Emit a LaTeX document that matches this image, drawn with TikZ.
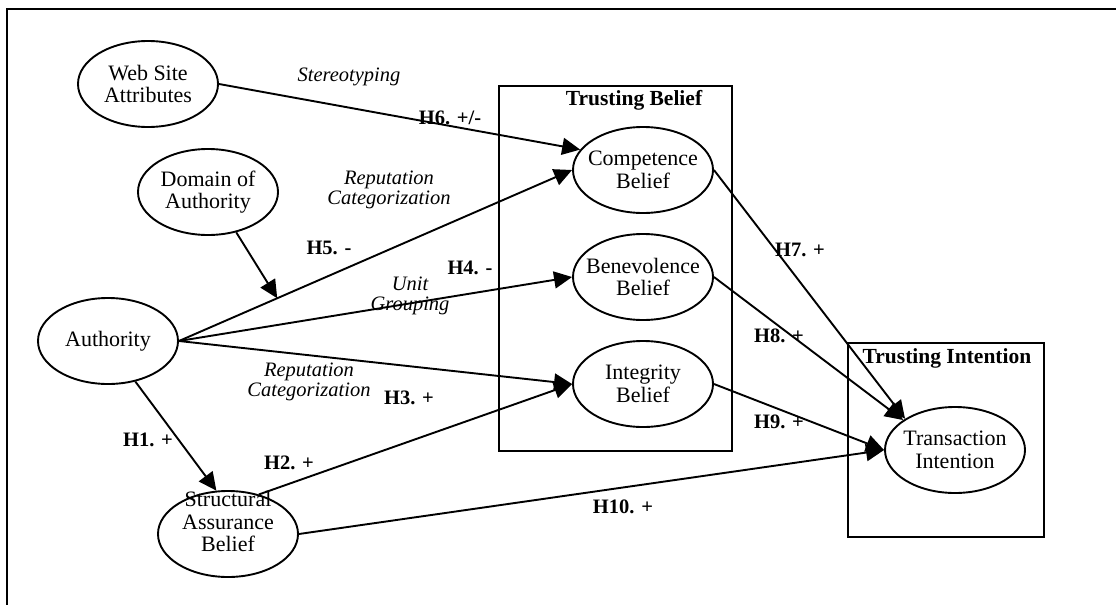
\documentclass[tikz,border=0pt]{standalone}
\usepackage{fontspec}
\setmainfont{Liberation Serif}
\usepackage{tikz}
\usetikzlibrary{arrows.meta, shapes.geometric, positioning}
\tikzstyle{construct}=[ellipse, draw, line width=1.9pt, minimum width=140pt, minimum height=86pt, inner xsep=-10pt, inner ysep=-5pt, align=center, font=\fontsize{22}{22.5}\selectfont]
\tikzstyle{group}=[draw, line width=2pt]
\tikzstyle{grouptitle}=[font=\fontsize{21.5}{22}\selectfont\bfseries]
\tikzstyle{hyp}=[font=\fontsize{20.5}{20.5}\selectfont\bfseries]
\tikzstyle{mech}=[align=center, font=\fontsize{20.5}{20}\selectfont\itshape]
\tikzstyle{post}=[-{Triangle[length=18pt,width=17pt]}, line width=1.9pt]

\begin{document}
\begin{tikzpicture}[x=1pt, y=-1pt, node distance=107pt]
  \useasboundingbox (0,0) rectangle (1116,605);
  % outer frame (cut off at right and bottom)
  \draw[line width=2pt] (1116,9) -- (7,9) -- (7,605);
  % groups
  \draw[group] (499,86) rectangle (732,451);
  \node[grouptitle] (tbtitle) at (634,100) {Trusting Belief};
  \draw[group] (848,343) rectangle (1044,537);
  \node[grouptitle] (tititle) at (947,358) {Trusting Intention};

  % constructs
  \node[construct] (wsa) at (148,84) {Web Site\\Attributes};
  \node[construct] (doa) at (208,192) {Domain of\\Authority};
  \node[construct] (auth) at (108,341) {Authority};
  \node[construct] (sab) at (228,534) {\raisebox{4pt}[0pt][0pt]{\begin{tabular}{@{}c@{}}Structural\\Assurance\\Belief\end{tabular}}};
  \node[construct] (comp) at (643,170) {Competence\\Belief};
  \node[construct] (ben) [below of=comp] {Benevolence\\Belief};
  \node[construct] (int) [below of=ben] {Integrity\\Belief};
  \node[construct] (ti) at (955,450) {Transaction\\Intention};

  % paths
  \draw[post] (wsa.east) -- (comp.162);
  \draw[post] (auth.east) -- coordinate[pos=0.25] (mod) (comp.west);
  \draw[post] (doa.-55) -- (mod);
  \draw[post] (auth.east) -- (ben.west);
  \draw[post] (auth.east) -- (int.west);
  \draw[post] (auth.-56) -- (sab.105);
  \draw[post] (sab.52) -- (int.west);
  \draw[post] (sab.east) -- (ti.west);
  \draw[post] (comp.east) -- (ti.148);
  \draw[post] (ben.east) -- (ti.150);
  \draw[post] (int.east) -- (ti.west);

  % mechanisms
  \node[mech] (m1) at (349,77) {Stereotyping};
  \node[mech] (m2) at (389,190) {Reputation\\Categorization};
  \node[mech] (m3) at (410,296) {Unit\\Grouping};
  \node[mech] (m4) at (309,382) {Reputation\\Categorization};

  % hypotheses
  \node[hyp] (h1) at (148,440) {H1. +};
  \node[hyp] (h2) at (289,463) {H2. +};
  \node[hyp] (h3) at (409,398) {H3. +};
  \node[hyp] (h4) at (470,268) {H4. -};
  \node[hyp] (h5) at (329,248) {H5. -};
  \node[hyp] (h6) at (450,118) {H6. +/-};
  \node[hyp] (h7) at (800,250) {H7. +};
  \node[hyp] (h8) at (779,336) {H8. +};
  \node[hyp] (h9) at (779,422) {H9. +};
  \node[hyp] (h10) at (623,507) {H10. +};
\end{tikzpicture}
\end{document}
